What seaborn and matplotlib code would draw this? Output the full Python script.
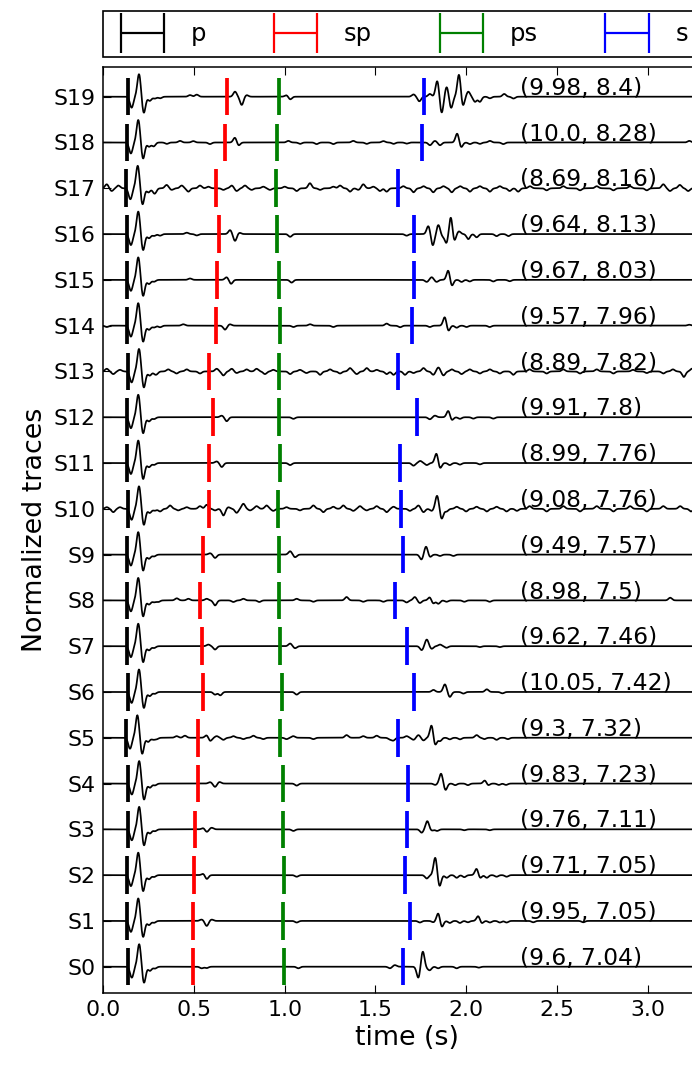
import numpy as np
import pandas as pd
import matplotlib
matplotlib.use("Agg")
import matplotlib.pyplot as plt
import seaborn as sns
from matplotlib.legend_handler import HandlerBase
from matplotlib.collections import LineCollection

# ---------------------------------------------------------------- data
stations = [f"S{i}" for i in range(20)]

# picked arrival times (s), S0 .. S19
p_pick = [0.135, 0.130, 0.130, 0.135, 0.135, 0.125, 0.134, 0.130, 0.130, 0.130,
          0.134, 0.130, 0.130, 0.134, 0.130, 0.130, 0.130, 0.127, 0.130, 0.134]
sp_pick = [0.496, 0.496, 0.498, 0.503, 0.520, 0.520, 0.551, 0.542, 0.534, 0.551,
           0.582, 0.582, 0.606, 0.582, 0.623, 0.628, 0.637, 0.621, 0.669, 0.683]
ps_pick = [0.997, 0.990, 0.997, 0.992, 0.990, 0.975, 0.984, 0.975, 0.968, 0.968,
           0.963, 0.975, 0.970, 0.968, 0.975, 0.968, 0.959, 0.951, 0.959, 0.968]
s_pick = [1.654, 1.689, 1.663, 1.672, 1.681, 1.626, 1.711, 1.672, 1.606, 1.654,
          1.642, 1.633, 1.728, 1.627, 1.704, 1.712, 1.712, 1.627, 1.754, 1.767]

# station annotations
dist_km = [9.6, 9.95, 9.71, 9.76, 9.83, 9.3, 10.05, 9.62, 8.98, 9.49,
           9.08, 8.99, 9.91, 8.89, 9.57, 9.67, 9.64, 8.69, 10.0, 9.98]
depth_km = [7.04, 7.05, 7.05, 7.11, 7.23, 7.32, 7.42, 7.46, 7.5, 7.57,
            7.76, 7.76, 7.8, 7.82, 7.96, 8.03, 8.13, 8.16, 8.28, 8.4]

# direct-P wavelet: extrema lags after the P pick (s) and normalized amplitudes
p_wave_lag = [0.022, 0.063, 0.089, 0.122, 0.150]
p_wave_amp = [-0.24, 0.50, -0.36, -0.09, -0.04]

# remaining extrema of each trace (times in s, normalized amplitudes), S0 .. S19
event_t = [
    [0.542, 0.57, 1.075, 1.58, 1.607, 1.737, 1.761, 1.782, 1.80, 1.846, 1.948, 2.07],
    [0.542, 0.57, 0.597, 1.066, 1.745, 1.82, 1.847, 1.865, 1.91, 1.966, 2.01, 2.067,
     2.085, 2.131, 2.186, 2.223, 2.37, 2.646],
    [0.552, 0.57, 1.066, 1.783, 1.83, 1.853, 1.893, 1.948, 1.99, 2.058, 2.076, 2.114,
     2.168, 2.223],
    [0.552, 0.57, 0.597, 1.048, 1.755, 1.786, 1.81, 1.84, 1.99, 2.13],
    [0.589, 0.616, 0.64, 1.066, 1.83, 1.862, 1.886, 1.94, 2.01, 2.104, 2.12, 2.18, 2.22],
    [0.294, 0.404, 0.45, 0.57, 0.589, 0.625, 0.662, 0.717, 0.772, 0.827, 0.882, 1.01,
     1.047, 1.158, 1.341, 1.433, 1.507, 1.58, 1.599, 1.672, 1.71, 1.737, 1.765, 1.81,
     1.828, 1.856, 1.91, 1.966, 2.058, 2.10, 2.168, 2.23],
    [0.616, 0.645, 1.066, 1.82, 1.883, 1.91, 1.985, 2.114, 2.2],
    [0.579, 0.616, 1.03, 1.057, 1.755, 1.783, 1.81, 1.856, 1.892, 2.076, 2.186],
    [0.303, 0.405, 0.469, 0.57, 0.616, 0.717, 0.772, 0.86, 1.066, 1.158, 1.341, 1.433,
     1.544, 1.672, 1.717, 1.745, 1.80, 1.818, 1.847, 1.892, 1.99, 2.13, 3.125],
    [0.589, 0.616, 1.03, 1.057, 1.754, 1.779, 1.80, 1.856, 1.93],
    [0.019, 0.055, 0.092, 0.313, 0.368, 0.413, 0.46, 0.533, 0.57, 0.616, 0.662, 0.689,
     0.735, 0.772, 0.809, 0.845, 0.90, 0.937, 1.01, 1.084, 1.158, 1.213, 1.268, 1.323,
     1.378, 1.415, 1.452, 1.507, 1.562, 1.60, 1.69, 1.737, 1.765, 1.81, 1.84, 1.865,
     1.892, 1.948, 2.0, 2.058, 2.114, 2.168, 2.223, 2.28, 2.35, 2.444, 2.536, 2.628,
     2.72, 2.812, 2.904, 2.996, 3.087, 3.18, 3.24],
    [0.625, 0.653, 1.03, 1.71, 1.747, 1.783, 1.837, 1.855, 1.91, 1.966, 2.076],
    [0.653, 0.68, 1.048, 1.80, 1.828, 1.902, 1.92, 1.966, 2.04, 2.15],
    [0.019, 0.055, 0.092, 0.294, 0.358, 0.404, 0.46, 0.533, 0.625, 0.662, 0.708, 0.735,
     0.79, 0.845, 0.891, 0.937, 1.03, 1.084, 1.12, 1.195, 1.25, 1.305, 1.36, 1.397,
     1.452, 1.507, 1.562, 1.60, 1.663, 1.71, 1.765, 1.819, 1.847, 1.875, 1.921, 1.975,
     2.02, 2.076, 2.131, 2.186, 2.26, 2.35, 2.444, 2.536, 2.628, 2.72, 2.812, 2.92,
     2.996, 3.087, 3.14, 3.2, 3.245],
    [0.019, 0.313, 0.441, 0.671, 0.698, 1.048, 1.14, 1.268, 1.562, 1.636, 1.80, 1.883,
     1.901, 1.948, 2.002, 2.13, 3.23],
    [0.478, 0.68, 0.704, 1.038, 1.783, 1.81, 1.837, 1.902, 1.92, 1.975, 2.02, 2.15, 2.24],
    [0.313, 0.46, 0.515, 0.699, 0.726, 0.75, 1.03, 1.672, 1.792, 1.816, 1.847, 1.87,
     1.892, 1.916, 1.933, 1.96, 2.012, 2.058, 2.168, 2.233],
    [0.019, 0.046, 0.083, 0.285, 0.349, 0.377, 0.432, 0.469, 0.533, 0.579, 0.662, 0.708,
     0.735, 0.781, 0.818, 0.882, 0.919, 1.0, 1.066, 1.139, 1.195, 1.268, 1.305, 1.36,
     1.406, 1.433, 1.488, 1.525, 1.562, 1.654, 1.71, 1.765, 1.819, 1.875, 1.921, 1.967,
     2.021, 2.076, 2.131, 2.186, 2.24, 2.287, 2.352, 2.444, 2.536, 2.628, 2.72, 2.812,
     2.904, 2.996, 3.087, 3.124, 3.178, 3.224],
    [0.276, 0.35, 0.423, 0.496, 0.588, 0.726, 0.745, 1.02, 1.085, 1.176, 1.268, 1.378,
     1.452, 1.544, 1.60, 1.672, 1.801, 1.828, 1.856, 1.951, 1.972, 2.021, 2.076, 2.131,
     2.205, 3.23],
    [0.313, 0.478, 0.515, 0.726, 0.763, 0.79, 1.01, 1.03, 1.71, 1.742, 1.80, 1.841,
     1.865, 1.893, 1.917, 1.961, 1.981, 2.012, 2.049, 2.076, 2.131, 2.21, 2.261],
]
event_a = [
    [-0.035, -0.03, -0.035, -0.035, 0.035, -0.25, 0.34, -0.03, -0.073, -0.035, -0.035, -0.02],
    [0.03, -0.11, 0.03, -0.035, -0.035, -0.03, 0.18, -0.146, -0.045, -0.045, -0.03, 0.11,
     -0.058, -0.035, -0.035, -0.035, -0.03, -0.03],
    [0.035, -0.087, -0.035, -0.073, 0.39, -0.25, -0.058, -0.058, -0.045, 0.146, -0.073,
     -0.058, -0.035, -0.035],
    [0.03, -0.058, 0.035, -0.035, -0.073, 0.18, -0.03, -0.035, -0.02, -0.02],
    [0.03, -0.073, 0.035, -0.045, -0.03, 0.22, -0.146, -0.035, -0.035, 0.073, -0.045,
     -0.03, -0.03],
    [-0.03, 0.035, 0.045, 0.058, -0.073, 0.035, -0.045, 0.035, -0.03, 0.045, -0.03, -0.03,
     0.035, -0.03, 0.058, 0.035, 0.045, -0.035, -0.058, 0.035, -0.045, 0.058, -0.058, 0.29,
     -0.18, -0.073, -0.035, -0.035, 0.058, -0.03, -0.045, -0.03],
    [-0.058, -0.073, -0.058, 0.045, 0.167, -0.11, -0.035, 0.058, -0.03],
    [0.035, -0.073, 0.058, -0.045, -0.087, 0.146, -0.058, 0.035, -0.035, -0.02, -0.02],
    [-0.035, 0.045, 0.035, 0.035, -0.11, -0.035, 0.035, -0.035, 0.035, -0.03, 0.073, -0.03,
     -0.03, -0.045, 0.073, -0.058, 0.073, -0.073, -0.073, -0.03, -0.03, -0.03, 0.058],
    [0.03, -0.073, 0.073, -0.058, -0.11, 0.18, -0.058, -0.03, -0.03],
    [0.035, -0.073, 0.035, -0.058, 0.073, -0.035, 0.035, 0.058, 0.087, -0.035, -0.146,
     0.035, -0.087, 0.11, -0.035, 0.058, 0.073, -0.045, 0.035, -0.035, 0.073, -0.073,
     0.045, 0.073, -0.045, 0.058, -0.035, 0.058, -0.073, 0.045, -0.045, 0.073, -0.073,
     -0.045, 0.29, -0.22, -0.058, 0.045, -0.058, 0.045, -0.058, 0.045, -0.058, -0.045,
     0.058, -0.058, 0.058, -0.058, 0.058, -0.058, 0.058, -0.058, 0.058, 0.058, -0.058],
    [0.035, -0.087, -0.045, -0.058, 0.045, -0.045, 0.22, -0.13, -0.045, -0.035, -0.03],
    [0.035, -0.087, -0.035, -0.045, 0.035, 0.146, -0.073, -0.035, -0.03, -0.03],
    [0.058, -0.058, 0.035, -0.045, 0.045, -0.045, 0.045, -0.045, 0.058, -0.087, 0.058,
     -0.035, 0.045, 0.058, -0.058, 0.035, -0.058, 0.035, -0.035, -0.073, 0.045, -0.045,
     0.073, -0.058, 0.073, 0.035, -0.058, -0.073, -0.073, -0.035, 0.073, -0.073, 0.087,
     -0.087, 0.045, -0.058, 0.045, -0.045, 0.045, -0.045, -0.073, 0.045, -0.045, 0.045,
     -0.045, 0.045, -0.045, 0.035, -0.035, -0.045, 0.045, -0.12, 0.06],
    [-0.03, -0.035, 0.03, -0.087, 0.03, -0.03, 0.03, -0.03, 0.045, -0.035, -0.03, 0.20,
     -0.13, -0.045, -0.03, -0.03, 0.02],
    [0.03, 0.058, -0.087, -0.06, -0.045, 0.058, -0.045, 0.22, -0.146, -0.045, -0.035,
     -0.035, -0.03],
    [-0.035, 0.03, -0.03, 0.087, -0.15, 0.03, -0.06, -0.035, 0.18, -0.25, 0.20, -0.05,
     -0.20, 0.40, -0.18, 0.06, -0.11, -0.07, -0.045, -0.045],
    [0.087, -0.06, 0.06, -0.087, 0.073, -0.035, 0.06, -0.073, 0.06, 0.035, -0.035, 0.06,
     -0.06, 0.06, -0.035, 0.035, -0.035, 0.035, -0.06, 0.11, -0.035, 0.035, 0.06, -0.073,
     -0.035, 0.087, 0.035, -0.06, -0.073, 0.045, -0.087, 0.045, -0.087, 0.045, -0.087,
     0.045, -0.073, 0.045, -0.073, 0.045, -0.06, -0.073, 0.045, -0.045, 0.045, -0.045,
     0.045, -0.045, 0.045, -0.045, 0.087, -0.06, 0.073, -0.06],
    [-0.045, -0.03, 0.035, 0.03, -0.035, 0.11, -0.07, 0.035, -0.03, -0.035, -0.035,
     0.035, -0.03, 0.03, -0.03, -0.025, -0.06, 0.035, -0.06, 0.20, -0.11, -0.035, -0.03,
     0.035, -0.035, 0.035],
    [-0.035, 0.035, 0.045, 0.11, -0.18, 0.035, 0.035, -0.06, 0.05, -0.1, 0.06, 0.35,
     -0.36, 0.22, -0.25, 0.50, -0.22, 0.11, -0.11, -0.11, -0.035, 0.06, -0.04],
]

phase_names = ["p", "sp", "ps", "s"]
phase_colors = ["black", "red", "green", "blue"]

# ---------------------------------------------------------------- traces
T_END = 3.35
t = np.arange(0.0, T_END + 0.002, 0.002)
sigma = 0.0095


def bump_sum(times, amps):
    times = np.asarray(times, float)[:, None]
    amps = np.asarray(amps, float)[:, None]
    return (amps * np.exp(-0.5 * ((t[None, :] - times) / sigma) ** 2)).sum(axis=0)


frames = []
for i, name in enumerate(stations):
    y = bump_sum(np.add(p_pick[i], p_wave_lag), p_wave_amp)
    y = y + bump_sum(event_t[i], event_a[i])
    frames.append(pd.DataFrame({"time": t, "trace": i + y, "station": name}))
traces = pd.concat(frames, ignore_index=True)

# ---------------------------------------------------------------- style
sns.set_theme(style="ticks")
plt.rcParams.update({
    "font.family": ["DejaVu Sans"],
    "xtick.direction": "in",
    "ytick.direction": "in",
    "xtick.top": True,
    "xtick.major.size": 5.5,
    "ytick.major.size": 5.5,
    "xtick.major.width": 0.8,
    "ytick.major.width": 0.8,
    "xtick.major.pad": 5,
    "ytick.major.pad": 5.5,
    "axes.linewidth": 1.1,
    "axes.edgecolor": "black",
    "xtick.color": "black",
    "ytick.color": "black",
    "axes.labelcolor": "black",
    "text.color": "black",
})

fig = plt.figure(figsize=(6.92, 10.66), dpi=100)
ax = fig.add_axes([0.1493, 0.06876, 0.8782, 0.86811])

sns.lineplot(data=traces, x="time", y="trace", units="station", estimator=None,
             sort=False, color="black", linewidth=1.25, ax=ax, legend=False)

offsets = np.arange(len(stations))
half = 0.41
pick_sets = [p_pick, sp_pick, ps_pick, s_pick]
handles = []
for picks, name, col in zip(pick_sets, phase_names, phase_colors):
    h = ax.vlines(picks, offsets - half, offsets + half, colors=col,
                  linewidth=2.7, zorder=3, label=name)
    handles.append(h)

for i in range(len(stations)):
    ax.text(2.295, offsets[i] + 0.04, f"({dist_km[i]}, {depth_km[i]})",
            fontsize=16.8, va="baseline", ha="left", zorder=4)

ax.set_xlim(0, T_END)
ax.set_ylim(-0.568, 19.642)
ax.set_xticks(np.arange(0, 3.01, 0.5))
ax.set_yticks(offsets)
ax.set_yticklabels(stations)
ax.tick_params(labelsize=15.8)
ax.set_xlabel("time (s)", fontsize=19.4)
ax.set_ylabel("Normalized traces", fontsize=19.4)


class PickHandler(HandlerBase):
    """Legend key drawn as an 'H': two pick bars joined by a thin line."""

    def create_artists(self, legend, orig_handle, xdescent, ydescent, width,
                       height, fontsize, trans):
        color = orig_handle.get_colors()[0]
        inset = 0.27 * fontsize
        x0 = -xdescent + inset
        x1 = -xdescent + width - inset
        yc = -ydescent + height / 2
        hh = 0.82 * fontsize
        segs = [[(x0, yc), (x1, yc)],
                [(x0, yc - hh), (x0, yc + hh)],
                [(x1, yc - hh), (x1, yc + hh)]]
        lc = LineCollection(segs, colors=[color], linewidths=1.6, transform=trans)
        return [lc]


leg = ax.legend(handles=handles, labels=phase_names, ncol=4, loc="lower left",
                bbox_to_anchor=(0.0, 1.0108), borderaxespad=0.0,
                fontsize=17.5, handlelength=2.32, handletextpad=0.84,
                columnspacing=2.5, borderpad=0.45, fancybox=False,
                framealpha=1.0, edgecolor="black",
                handler_map={LineCollection: PickHandler()})
leg.get_frame().set_linewidth(1.2)

fig.savefig("out.png", dpi=100)
